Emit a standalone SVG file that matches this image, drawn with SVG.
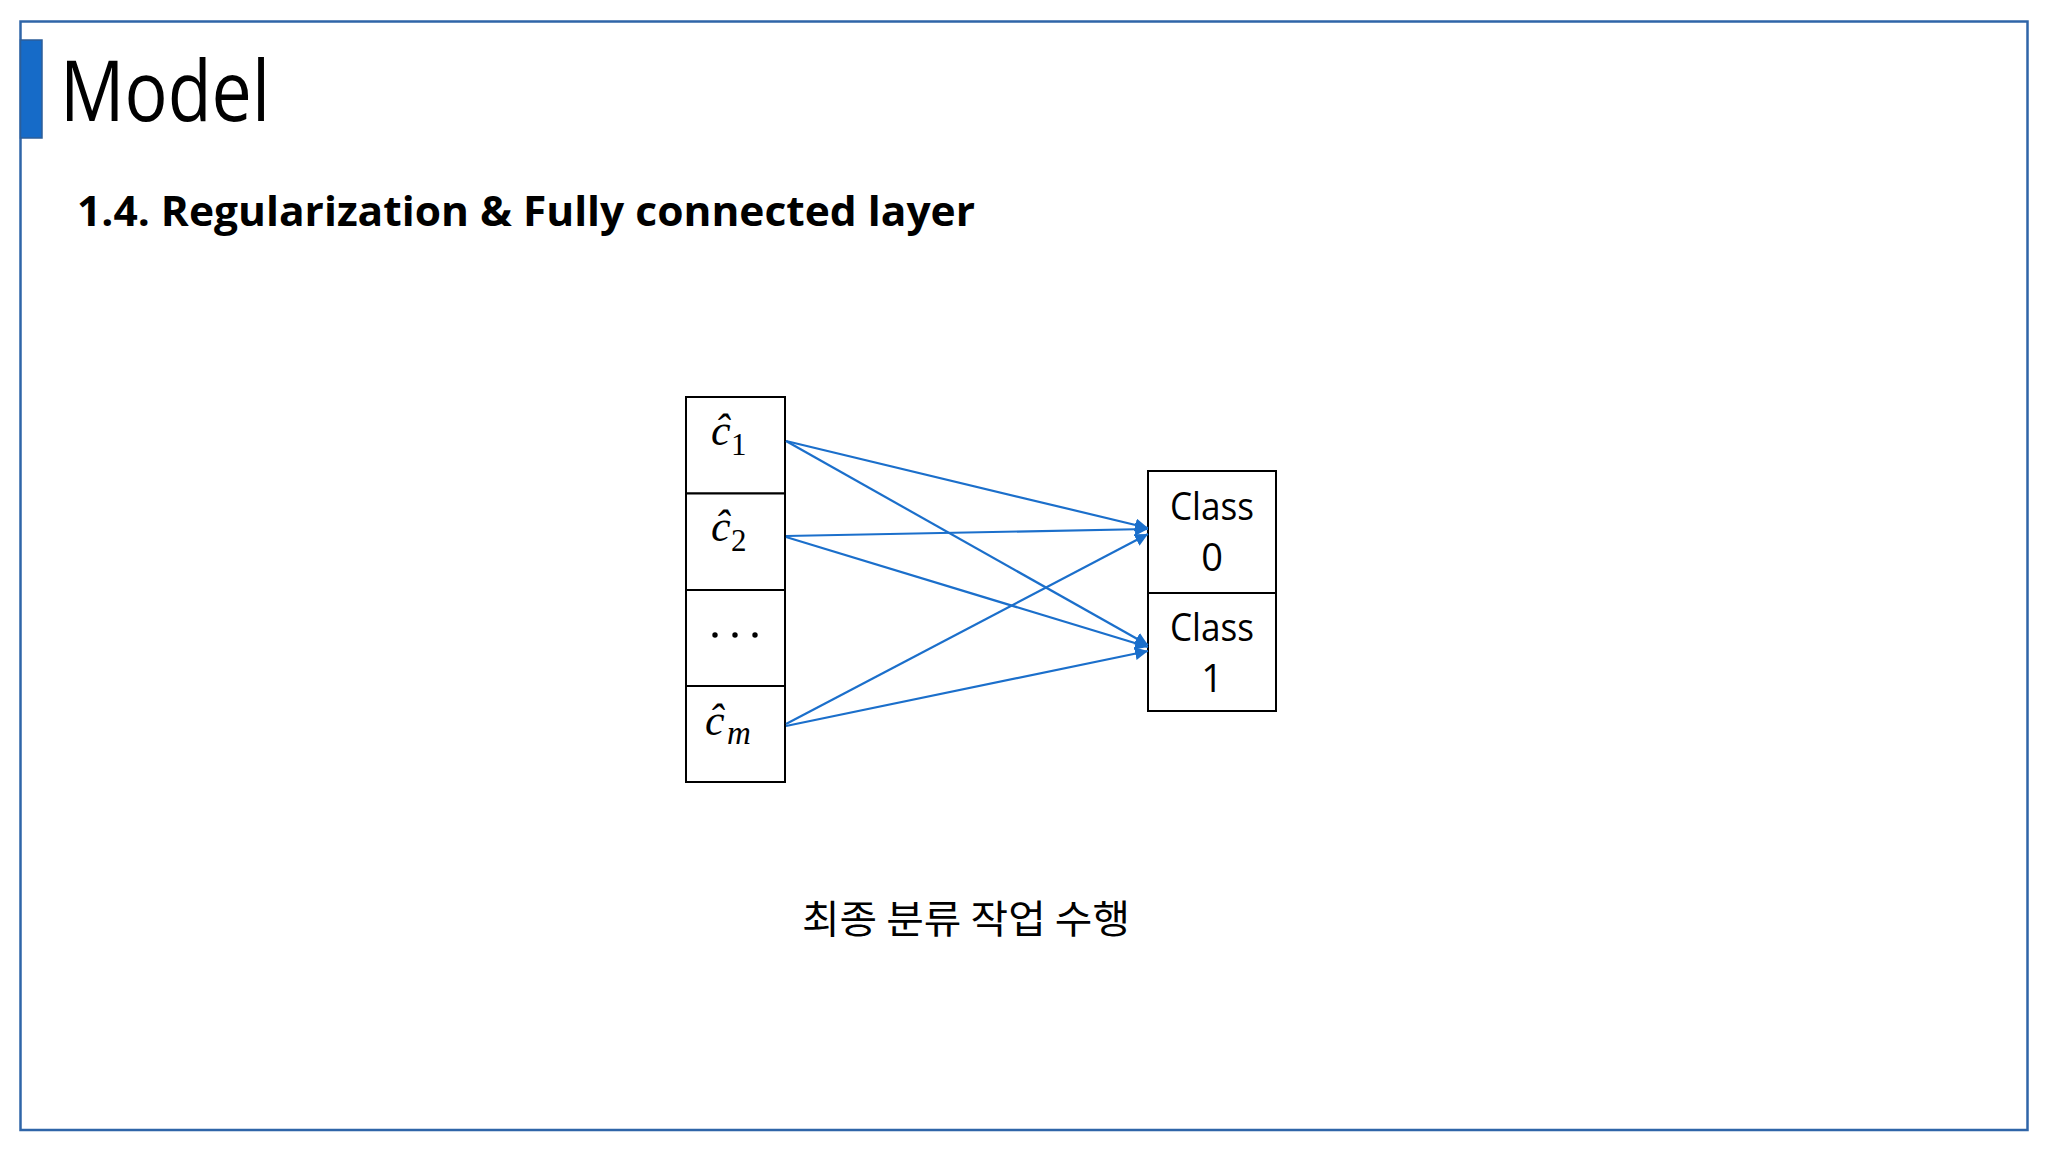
<svg xmlns="http://www.w3.org/2000/svg" width="2048" height="1152" viewBox="0 0 2048 1152">
  <defs>
    <marker id="arrow" markerUnits="userSpaceOnUse" markerWidth="14" markerHeight="14" refX="13" refY="6.5" orient="auto">
      <path d="M0,0 L13,6.5 L0,13 z" fill="#1b6fcb"/>
    </marker>
    <style>
      .box { fill: #ffffff; stroke: #000000; stroke-width: 2; }
      .conn { stroke: #1b6fcb; stroke-width: 2.2; fill: none; marker-end: url(#arrow); }
      .cls { font-family: "Open Sans", "Liberation Sans", sans-serif; font-size: 38px; fill: #000; text-anchor: middle; }
      .math { font-family: "Liberation Serif", "DejaVu Serif", serif; font-style: italic; fill: #000; }
      .sub { font-family: "Liberation Serif", "DejaVu Serif", serif; fill: #000; }
    </style>
  </defs>
  <rect width="2048" height="1152" fill="#ffffff"/>
  <g id="frame">
    <rect x="20.5" y="21.5" width="2007" height="1108.5" fill="none" stroke="#2f65a8" stroke-width="2.5"/>
    <rect x="20.5" y="40" width="21.5" height="98" fill="#166bc8" stroke="#2c5e99" stroke-width="1.5"/>
  </g>
  <g id="title">
    <text x="60" y="121" font-family="Open Sans, Liberation Sans, sans-serif" font-size="85" fill="#000" textLength="210" lengthAdjust="spacingAndGlyphs">Model</text>
  </g>
  <g id="subtitle">
    <text x="77" y="226" font-family="Open Sans, Liberation Sans, sans-serif" font-weight="bold" font-size="42" fill="#000" textLength="898" lengthAdjust="spacingAndGlyphs">1.4. Regularization &amp; Fully connected layer</text>
  </g>
  <g id="input-vector">
    <g id="node-c1">
      <rect class="box" x="686" y="397" width="99" height="96.5"/>
      <text class="math" x="711" y="445" font-size="44">ĉ</text>
      <text class="sub" x="731" y="455" font-size="31">1</text>
    </g>
    <g id="node-c2">
      <rect class="box" x="686" y="493.5" width="99" height="96.5"/>
      <text class="math" x="711" y="541" font-size="44">ĉ</text>
      <text class="sub" x="731" y="551" font-size="31">2</text>
    </g>
    <g id="node-dots">
      <rect class="box" x="686" y="590" width="99" height="96"/>
      <circle cx="715" cy="635" r="2.7" fill="#000"/>
      <circle cx="735" cy="635" r="2.7" fill="#000"/>
      <circle cx="755" cy="635" r="2.7" fill="#000"/>
    </g>
    <g id="node-cm">
      <rect class="box" x="686" y="686" width="99" height="96"/>
      <text class="math" x="705" y="735" font-size="44">ĉ</text>
      <text class="math" x="727" y="744" font-size="33">m</text>
    </g>
  </g>
  <g id="output-classes">
    <g id="node-class0">
      <rect class="box" x="1148" y="471" width="128" height="122"/>
      <text class="cls" x="1212" y="520" textLength="84" lengthAdjust="spacingAndGlyphs">Class</text>
      <text class="cls" x="1212" y="571">0</text>
    </g>
    <g id="node-class1">
      <rect class="box" x="1148" y="593" width="128" height="118"/>
      <text class="cls" x="1212" y="641" textLength="84" lengthAdjust="spacingAndGlyphs">Class</text>
      <text class="cls" x="1212" y="692">1</text>
    </g>
  </g>
  <g id="connectors">
    <line class="conn" x1="786" y1="441" x2="1148" y2="528"/>
    <line class="conn" x1="786" y1="441" x2="1148" y2="645"/>
    <line class="conn" x1="786" y1="536" x2="1148" y2="529"/>
    <line class="conn" x1="786" y1="537" x2="1148" y2="647"/>
    <line class="conn" x1="786" y1="724" x2="1148" y2="534"/>
    <line class="conn" x1="786" y1="726" x2="1148" y2="651"/>
  </g>
  <g id="caption">
    <text x="966" y="933" font-family="Noto Sans CJK KR, Noto Sans, sans-serif" font-size="39" fill="#000" text-anchor="middle" textLength="328" lengthAdjust="spacingAndGlyphs">최종 분류 작업 수행</text>
  </g>
</svg>
